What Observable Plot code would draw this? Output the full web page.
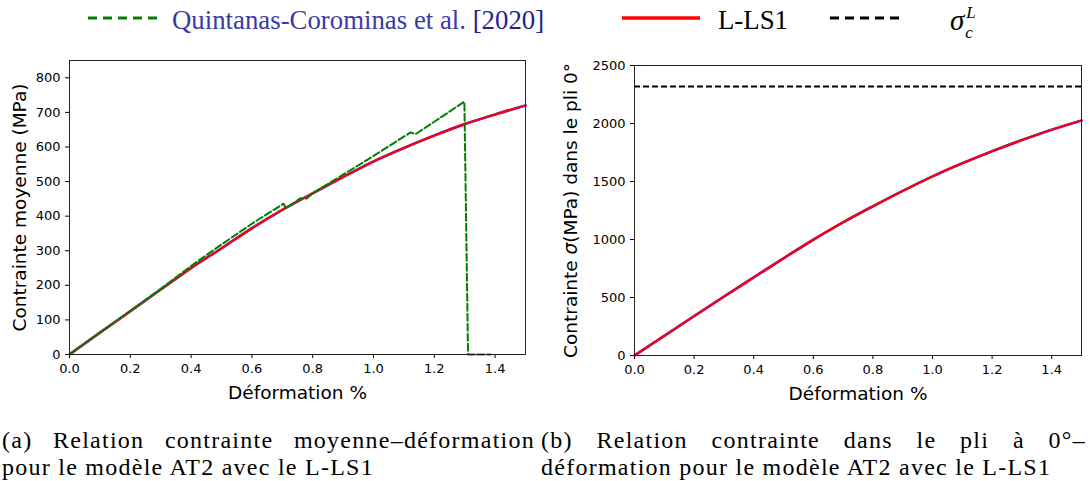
<!DOCTYPE html>
<html>
<head>
<meta charset="utf-8">
<script src="https://cdn.jsdelivr.net/npm/d3@7"></script>
<script src="https://cdn.jsdelivr.net/npm/@observablehq/plot@0.6"></script>
<style>
  html, body { margin: 0; padding: 0; background: white; }
  #root { position: relative; width: 1091px; height: 481px; overflow: hidden; background: white; }
  .abs { position: absolute; }
  .leg { font-family: "Liberation Serif", serif; font-size: 26.8px; line-height: 26px; white-space: nowrap; }
  .cap { font-family: "Liberation Serif", serif; font-size: 24px; line-height: 27px; letter-spacing: 1.25px; color: black; }
  .cap .l1 { display: flex; justify-content: space-between; white-space: nowrap; }
  .cap .l2 { white-space: nowrap; }
  svg g[aria-label="x-axis label"] text, svg g[aria-label="y-axis label"] text { font-size: 18.5px; }
</style>
</head>
<body>
<div id="root"></div>
<script>
// ---------- data ----------
const xTicks = [0, 0.2, 0.4, 0.6, 0.8, 1.0, 1.2, 1.4];
const yTicksA = [0, 100, 200, 300, 400, 500, 600, 700, 800];
const yTicksB = [0, 500, 1000, 1500, 2000, 2500];

// (a) mean stress vs strain — L-LS1 model
const strainModelA = [0, 0.1, 0.2, 0.3, 0.4, 0.5, 0.6, 0.7, 0.8, 0.9, 1.0, 1.1, 1.2, 1.3, 1.4, 1.5];
const stressModelA = [0, 63, 125, 188, 250, 307, 365, 418, 466, 513, 558, 597, 633, 666, 694, 720];

// (a) Quintanas-Corominas et al. [2020]
const strainRef = [0, 0.1, 0.2, 0.3, 0.4, 0.5, 0.6, 0.704, 0.712, 0.76, 0.78, 0.8, 0.9, 1.0, 1.1, 1.122, 1.138, 1.2, 1.299, 1.311, 1.385];
const stressRef = [0, 63, 126, 190, 256, 318, 378, 436, 423, 452, 451, 466, 520, 574, 630, 642, 637, 673, 731, 0, 0];

// (b) stress in 0° ply vs strain — L-LS1 model
const strainModelB = [0, 0.1, 0.2, 0.3, 0.4, 0.5, 0.6, 0.7, 0.8, 0.9, 1.0, 1.1, 1.2, 1.3, 1.4, 1.5];
const stressModelB = [0, 170, 340, 508, 673, 838, 998, 1148, 1286, 1419, 1544, 1657, 1761, 1857, 1946, 2026];

// critical stress sigma_c^L
const sigmaCL = [2320];

// ---------- tables ----------
const modelA = strainModelA.map((s, i) => ({strain: s, stress: stressModelA[i]}));
const refA = strainRef.map((s, i) => ({strain: s, stress: stressRef[i]}));
const modelB = strainModelB.map((s, i) => ({strain: s, stress: stressModelB[i]}));

const root = document.getElementById("root");
const fmt = d3.format(".1f");
const intFmt = d3.format("d");
const baseStyle = {fontFamily: "DejaVu Sans", fontSize: "13px", color: "black", background: "white", overflow: "visible"};

const left = Plot.plot({
  width: 540, height: 356,
  marginLeft: 69, marginRight: 15, marginTop: 10, marginBottom: 52,
  style: baseStyle,
  x: {domain: [0, 1.5], ticks: xTicks, tickFormat: fmt, tickSize: 4, label: "Déformation %", labelAnchor: "center", labelOffset: 44, labelArrow: false},
  y: {domain: [0, 850], ticks: yTicksA, tickFormat: intFmt, tickSize: 4, label: "Contrainte moyenne (MPa)", labelAnchor: "center", labelOffset: 57, labelArrow: false},
  marks: [
    Plot.line(modelA, {x: "strain", y: "stress", stroke: "#3a3aff", strokeWidth: 2.7, curve: "monotone-x"}),
    Plot.line(modelA, {x: "strain", y: "stress", stroke: "#ff0000", strokeWidth: 2.2, curve: "monotone-x"}),
    Plot.line(refA, {x: "strain", y: "stress", stroke: "green", strokeWidth: 2, strokeDasharray: "7,3"}),
    Plot.frame({stroke: "#222"})
  ]
});

const right = Plot.plot({
  width: 546, height: 356,
  marginLeft: 89, marginRight: 10, marginTop: 15, marginBottom: 51,
  style: baseStyle,
  x: {domain: [0, 1.5], ticks: xTicks, tickFormat: fmt, tickSize: 4, label: "Déformation %", labelAnchor: "center", labelOffset: 44, labelArrow: false},
  y: {domain: [0, 2500], ticks: yTicksB, tickFormat: intFmt, tickSize: 4, label: "Contrainte σ(MPa) dans le pli 0°", labelAnchor: "center", labelOffset: 71, labelArrow: false},
  marks: [
    Plot.ruleY(sigmaCL, {stroke: "black", strokeWidth: 2, strokeDasharray: "6,3"}),
    Plot.line(modelB, {x: "strain", y: "stress", stroke: "#3a3aff", strokeWidth: 2.7, curve: "monotone-x"}),
    Plot.line(modelB, {x: "strain", y: "stress", stroke: "#ff0000", strokeWidth: 2.2, curve: "monotone-x"}),
    Plot.frame({stroke: "#222"})
  ]
});

// italic sigma in right y label
d3.select(right).selectAll('g[aria-label="y-axis label"] text').each(function() {
  const t = d3.select(this);
  t.text(null);
  t.append("tspan").text("Contrainte ");
  t.append("tspan").attr("font-style", "italic").text("σ");
  t.append("tspan").text("(MPa) dans le pli 0°");
});

left.classList.add("abs");
left.style.left = "0px"; left.style.top = "50px";
right.classList.add("abs");
right.style.left = "545px"; right.style.top = "50px";
root.appendChild(left);
root.appendChild(right);

// ---------- legend ----------
function swatch(x, w, color, dash, sw) {
  const s = d3.create("svg").attr("class", "abs").attr("width", w).attr("height", 8)
    .style("left", x + "px").style("top", "14px");
  s.append("line").attr("x1", 0).attr("x2", w).attr("y1", 4).attr("y2", 4)
    .attr("stroke", color).attr("stroke-width", sw).attr("stroke-dasharray", dash);
  root.appendChild(s.node());
}
swatch(88, 72, "green", "9,6", 3);
swatch(622, 78, "red", null, 3.5);
swatch(830, 75, "black", "9,6", 3);

function legText(x, html, color) {
  const d = document.createElement("div");
  d.className = "abs leg";
  d.style.left = x + "px"; d.style.top = "7px"; d.style.color = color;
  d.innerHTML = html;
  root.appendChild(d);
}
legText(172, 'Quintanas-Corominas et al. <span style="color:#23238c">[2020]</span>', "#3b3ba6");
legText(718, "L-LS1", "black");
legText(950, '<i style="font-size:29px">σ</i><span style="display:inline-block;position:relative;width:14px;height:20px;vertical-align:top;"><i style="position:absolute;left:2px;top:-7px;font-size:17px;">L</i><i style="position:absolute;left:1px;top:13px;font-size:17px;">c</i></span>', "black");

// ---------- captions ----------
function caption(x, w, words1, l2) {
  const d = document.createElement("div");
  d.className = "abs cap";
  d.style.left = x + "px"; d.style.top = "427px"; d.style.width = w + "px";
  const a = document.createElement("div"); a.className = "l1";
  words1.forEach(wd => { const s = document.createElement("span"); s.textContent = wd; a.appendChild(s); });
  const b = document.createElement("div"); b.className = "l2"; b.textContent = l2;
  d.appendChild(a); d.appendChild(b);
  root.appendChild(d);
}
caption(2, 533, ["(a)", "Relation", "contrainte", "moyenne–déformation"], "pour le modèle AT2 avec le L-LS1");
caption(541, 545, ["(b)", "Relation", "contrainte", "dans", "le", "pli", "à", "0°–"], "déformation pour le modèle AT2 avec le L-LS1");
</script>
</body>
</html>
